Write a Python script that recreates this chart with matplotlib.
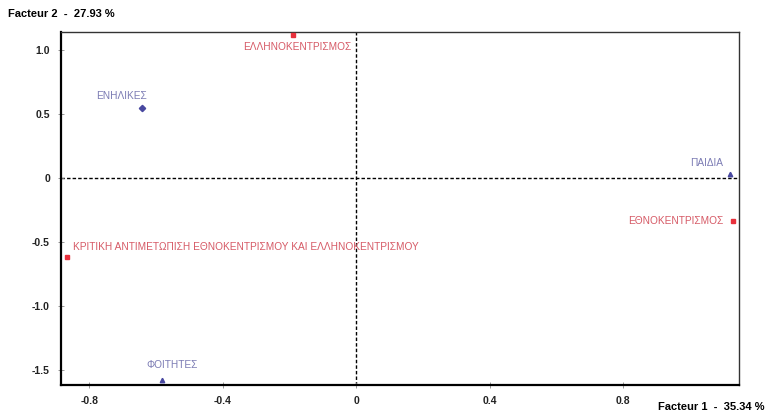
import matplotlib.pyplot as plt

# points of the factor map
names = ["ΕΛΛΗΝΟΚΕΝΤΡΙΣΜΟΣ", "ΕΝΗΛΙΚΕΣ", "ΠΑΙΔΙΑ", "ΕΘΝΟΚΕΝΤΡΙΣΜΟΣ",
         "ΚΡΙΤΙΚΗ ΑΝΤΙΜΕΤΩΠΙΣΗ ΕΘΝΟΚΕΝΤΡΙΣΜΟΥ ΚΑΙ ΕΛΛΗΝΟΚΕΝΤΡΙΣΜΟΥ", "ΦΟΙΤΗΤΕΣ"]
f1 = [-0.189, -0.642, 1.121, 1.130, -0.867, -0.582]
f2 = [1.117, 0.547, 0.031, -0.336, -0.617, -1.578]
group = ["var", "ind", "ind", "var", "var", "ind"]

xticks = [-0.8, -0.4, 0, 0.4, 0.8]
yticks = [1.0, 0.5, 0, -0.5, -1.0, -1.5]
ytick_labels = ["1.0", "0.5", "0", "-0.5", "-1.0", "-1.5"]

plt.rcParams['font.family'] = ['Liberation Sans', 'DejaVu Sans']

fig = plt.figure(figsize=(7.66, 4.18), dpi=100)
ax = fig.add_axes([61/766, 1-385/418, (739-61)/766, (385-32)/418])
ax.set_xlim(-0.885, 1.148)
ax.set_ylim(-1.617, 1.14)

ax.axhline(0, color='black', lw=1.0, ls=(0, (2.5, 1.5)), zorder=1)
ax.axvline(0, color='black', lw=1.0, ls=(0, (2.5, 1.5)), zorder=1)

red_lab = '#d65a66'
blue_lab = '#7c7cb4'
markers = {"ΕΛΛΗΝΟΚΕΝΤΡΙΣΜΟΣ": 's', "ΕΝΗΛΙΚΕΣ": 'D', "ΠΑΙΔΙΑ": '^',
           "ΕΘΝΟΚΕΝΤΡΙΣΜΟΣ": 's', "ΦΟΙΤΗΤΕΣ": '^'}
# label offsets in points, with alignment
offsets = {
    "ΕΛΛΗΝΟΚΕΝΤΡΙΣΜΟΣ": ((3, -5), 'center', 'top'),
    "ΕΝΗΛΙΚΕΣ": ((-15, 5), 'center', 'bottom'),
    "ΠΑΙΔΙΑ": ((-5, 8), 'right', 'center'),
    "ΕΘΝΟΚΕΝΤΡΙΣΜΟΣ": ((-7, 0), 'right', 'center'),
    names[4]: ((4, 7), 'left', 'center'),
    "ΦΟΙΤΗΤΕΣ": ((7, 11), 'center', 'center'),
}

for n, x, y, g in zip(names, f1, f2, group):
    mc = '#e8303c' if g == "var" else '#4848a0'
    tc = red_lab if g == "var" else blue_lab
    ax.plot(x, y, marker=markers.get(n, 's'), ms=3.2, color=mc, ls='none', zorder=3)
    off, ha, va = offsets[n]
    ax.annotate(n, (x, y), xytext=off, textcoords='offset points',
                ha=ha, va=va, fontsize=7.3, color=tc)

ax.set_xticks(xticks)
ax.set_xticklabels([str(t) for t in xticks])
ax.set_yticks(yticks)
ax.set_yticklabels(ytick_labels)
ax.tick_params(direction='inout', length=4, width=0.6, color='#888888',
               labelsize=7.5, pad=6)
for lab in ax.get_xticklabels() + ax.get_yticklabels():
    lab.set_fontweight('bold')
    lab.set_color('#222222')

for s in ['left', 'bottom']:
    ax.spines[s].set_linewidth(1.6)
for s in ['top', 'right']:
    ax.spines[s].set_linewidth(1.0)
    ax.spines[s].set_color('#333333')

fig.text(8/766, 1-14/418, "Facteur 2  -  27.93 %", fontsize=8,
         fontweight='bold', ha='left', va='center')
fig.text(765/766, 1-407/418, "Facteur 1  -  35.34 %", fontsize=8,
         fontweight='bold', ha='right', va='center')

fig.savefig("out.png", dpi=100)
